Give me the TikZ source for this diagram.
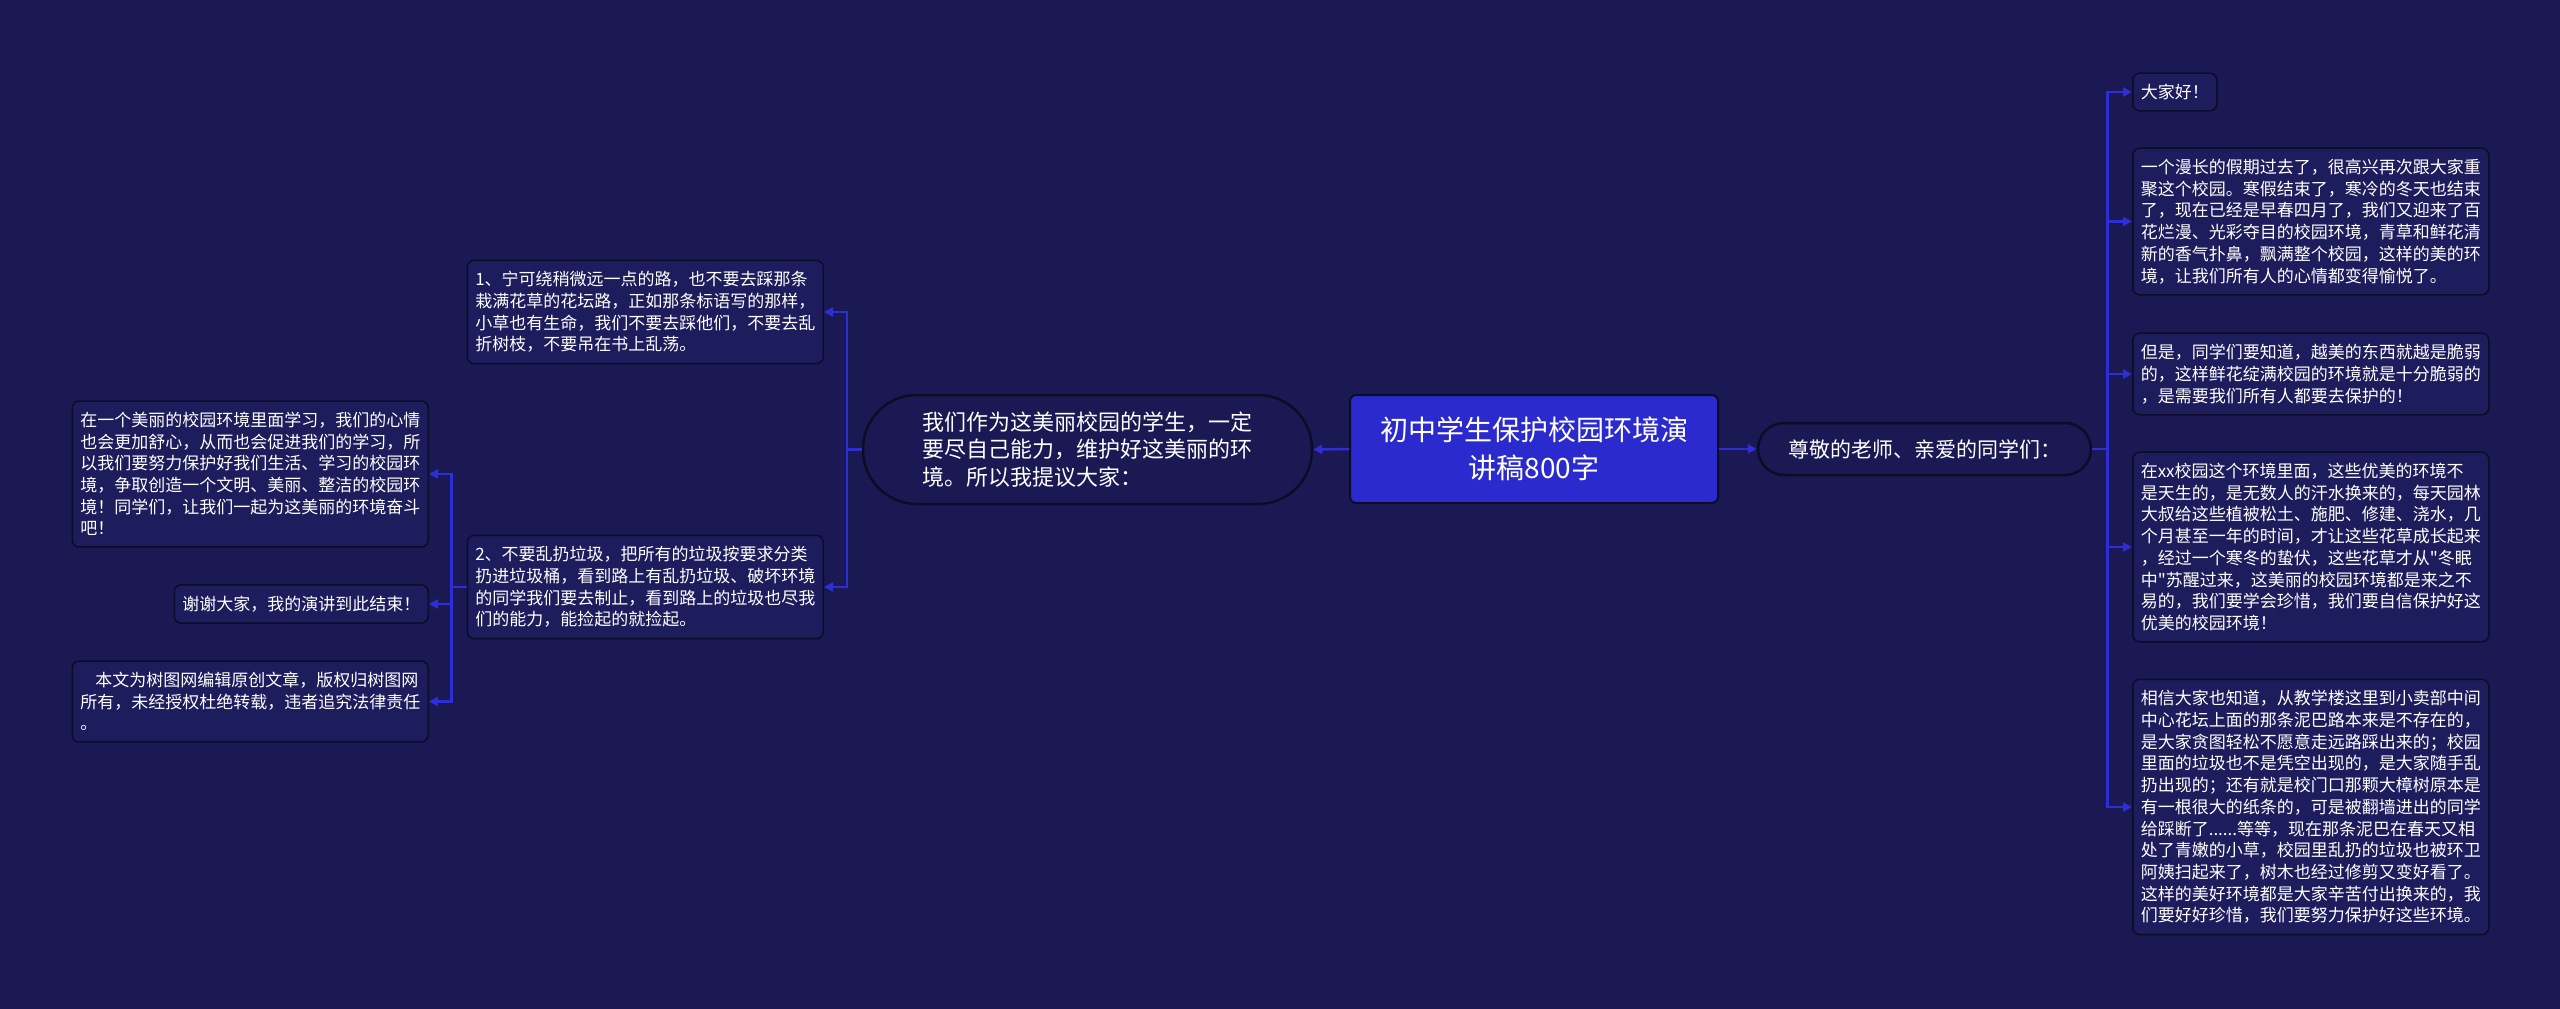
\documentclass[tikz,border=0pt]{standalone}
\usepackage{fontspec}
\setmainfont{Noto Sans CJK SC}
\newfontfamily\plainquote{Noto Sans CJK SC}
\usepackage{tikz}
\usetikzlibrary{arrows.meta,positioning}
\definecolor{bgnavy}{RGB}{26,25,84}
\definecolor{boxnavy}{RGB}{29,28,92}
\definecolor{edgedark}{RGB}{12,12,38}
\definecolor{linkblue}{RGB}{46,46,214}
\definecolor{rootblue}{RGB}{42,42,206}
\newcommand{\sq}{{\plainquote\char34}}
\tikzset{
	rootbox/.style={
		draw=edgedark, line width=2pt, rectangle, rounded corners=6pt,
		fill=rootblue, text=white, align=center,
		minimum width=368pt, minimum height=108pt,
		font=\fontsize{28}{38}\selectfont
	},
	pill/.style={
		draw=edgedark, line width=2.5pt, rectangle, rounded corners=26pt,
		fill=bgnavy, text=white
	},
	leaf/.style={
		draw=edgedark, line width=1.5pt, rectangle, rounded corners=7pt,
		fill=boxnavy, text=white, inner xsep=8pt, inner ysep=11pt,
		font=\fontsize{17}{21.7}\selectfont
	},
	longleaf/.style={leaf, text width=340pt, align=left},
	>={Triangle[length=9pt,width=9pt]},
	link/.style={->, draw=linkblue, line width=2.5pt}
}

\begin{document}
\begin{tikzpicture}[x=1pt,y=-1pt]
	\path[use as bounding box, fill=bgnavy] (0,0) rectangle (2560,1009);
	\node[rootbox] (root) at (1534,449) {初中学生保护校园环境演\\讲稿800字};
	\node[pill, minimum width=333pt, minimum height=52pt,
		font=\fontsize{21}{26}\selectfont] (greet) at (1924.5,449) {尊敬的老师、亲爱的同学们：};
	\node[pill, rounded corners=54pt, minimum width=449pt, minimum height=109pt,
		align=left, font=\fontsize{22}{27.5}\selectfont] (sugg) at (1087.5,449.5)
		{我们作为这美丽校园的学生，一定\\要尽自己能力，维护好这美丽的环\\境。所以我提议大家：};

	\node[leaf, anchor=west] (hello) at (2132,92) {大家好！};
	\node[longleaf, anchor=west] (holiday) at (2132,221.5) {一个漫长的假期过去了，很高兴再次跟大家重\\聚这个校园。寒假结束了，寒冷的冬天也结束\\了，现在已经是早春四月了，我们又迎来了百\\花烂漫、光彩夺目的校园环境，青草和鲜花清\\新的香气扑鼻，飘满整个校园，这样的美的环\\境，让我们所有人的心情都变得愉悦了。};
	\node[longleaf, anchor=west] (fragile) at (2132,374) {但是，同学们要知道，越美的东西就越是脆弱\\的，这样鲜花绽满校园的环境就是十分脆弱的\\，是需要我们所有人都要去保护的！};
	\node[longleaf, anchor=west] (sweat) at (2132,547) {在xx校园这个环境里面，这些优美的环境不\\是天生的，是无数人的汗水换来的，每天园林\\大叔给这些植被松土、施肥、修建、浇水，几\\个月甚至一年的时间，才让这些花草成长起来\\，经过一个寒冬的蛰伏，这些花草才从\sq 冬眠\\中\sq 苏醒过来，这美丽的校园环境都是来之不\\易的，我们要学会珍惜，我们要自信保护好这\\优美的校园环境！};
	\node[longleaf, anchor=west] (mudpath) at (2132,807) {相信大家也知道，从教学楼这里到小卖部中间\\中心花坛上面的那条泥巴路本来是不存在的，\\是大家贪图轻松不愿意走远路踩出来的；校园\\里面的垃圾也不是凭空出现的，是大家随手乱\\扔出现的；还有就是校门口那颗大樟树原本是\\有一根很大的纸条的，可是被翻墙进出的同学\\给踩断了......等等，现在那条泥巴在春天又相\\处了青嫩的小草，校园里乱扔的垃圾也被环卫\\阿姨扫起来了，树木也经过修剪又变好看了。\\这样的美好环境都是大家辛苦付出换来的，我\\们要好好珍惜，我们要努力保护好这些环境。};

	\node[longleaf, anchor=east] (grass) at (824,312) {1、宁可绕稍微远一点的路，也不要去踩那条\\栽满花草的花坛路，正如那条标语写的那样，\\小草也有生命，我们不要去踩他们，不要去乱\\折树枝，不要吊在书上乱荡。};
	\node[longleaf, anchor=east] (litter) at (824,587) {2、不要乱扔垃圾，把所有的垃圾按要求分类\\扔进垃圾桶，看到路上有乱扔垃圾、破坏环境\\的同学我们要去制止，看到路上的垃圾也尽我\\们的能力，能捡起的就捡起。};
	\node[longleaf, anchor=east] (together) at (429,474) {在一个美丽的校园环境里面学习，我们的心情\\也会更加舒心，从而也会促进我们的学习，所\\以我们要努力保护好我们生活、学习的校园环\\境，争取创造一个文明、美丽、整洁的校园环\\境！同学们，让我们一起为这美丽的环境奋斗\\吧！};
	\node[leaf, anchor=east] (thanks) at (429,604) {谢谢大家，我的演讲到此结束！};
	\node[longleaf, anchor=east] (notice) at (429,701.5) {\hspace*{15pt}本文为树图网编辑原创文章，版权归树图网\\所有，未经授权杜绝转载，违者追究法律责任\\。};

	\draw[link] (root.east) -- (greet.west);
	\draw[link] (root.west) -- (sugg.east);
	\draw[link] (greet.east) -- ++(15,0) |- (hello.west);
	\draw[link] (greet.east) -- ++(15,0) |- (holiday.west);
	\draw[link] (greet.east) -- ++(15,0) |- (fragile.west);
	\draw[link] (greet.east) -- ++(15,0) |- (sweat.west);
	\draw[link] (greet.east) -- ++(15,0) |- (mudpath.west);
	\draw[link] (sugg.west) -- ++(-15,0) |- (grass.east);
	\draw[link] (sugg.west) -- ++(-15,0) |- (litter.east);
	\draw[link] (litter.west) -- ++(-15,0) |- (together.east);
	\draw[link] (litter.west) -- ++(-15,0) |- (thanks.east);
	\draw[link] (litter.west) -- ++(-15,0) |- (notice.east);
\end{tikzpicture}
\end{document}
